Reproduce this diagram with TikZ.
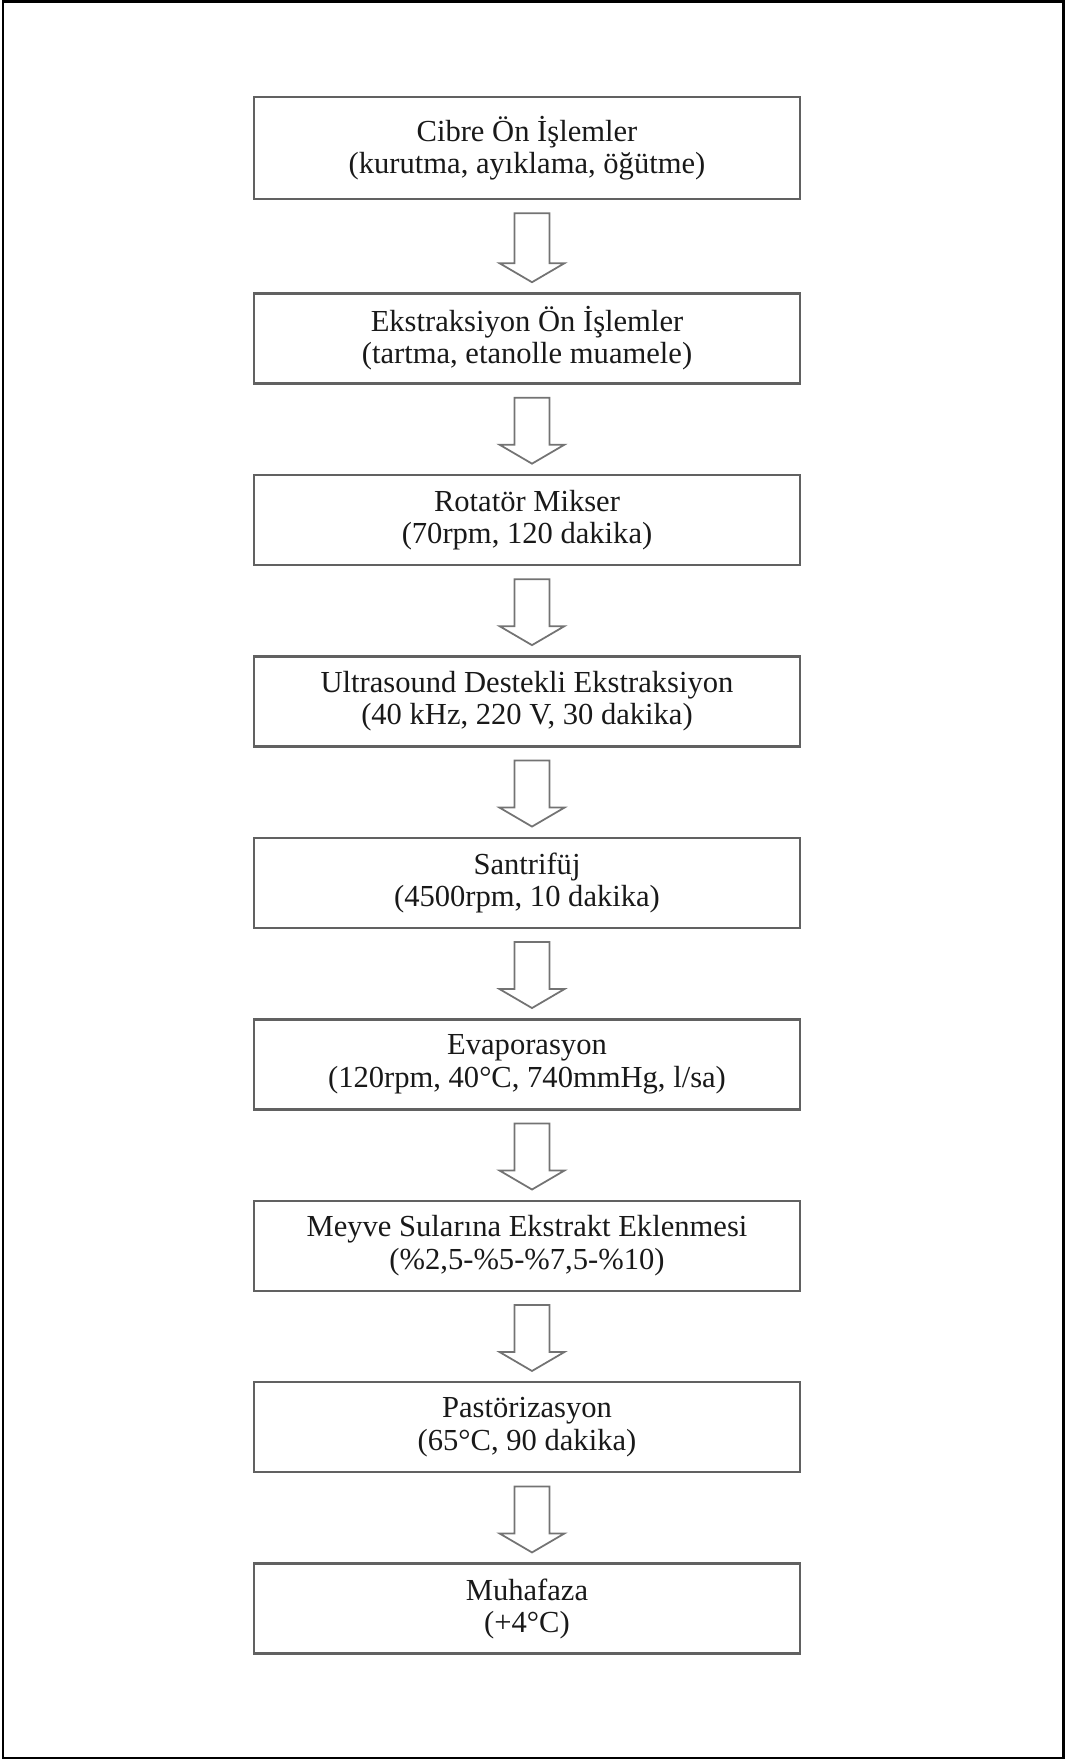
\documentclass[tikz,border=0pt]{standalone}
\usepackage{fontspec}
\setmainfont{Liberation Serif}
\usetikzlibrary{positioning,calc}

\begin{document}
\begin{tikzpicture}[
		islem/.style={draw=black!62,line width=0.7pt,align=center,minimum width=5.46cm,minimum height=0.9cm,inner sep=0pt,text=black!90,font=\fontsize{8.7}{9.2}\selectfont},
		ok/.style={draw=black!55,line width=0.5pt,line join=miter}
	]
		\useasboundingbox (0,0) rectangle (10.66,17.6);
		\draw[line width=0.85pt] (0.03,0.02) rectangle (10.63,17.58);
		\node[islem,minimum height=1.02cm] (cibre) at (5.27,16.12) {Cibre Ön İşlemler\\(kurutma, ayıklama, öğütme)};
		\node[islem,below=0.92cm of cibre] (ekstr) {Ekstraksiyon Ön İşlemler\\(tartma, etanolle muamele)};
		\node[islem,below=0.89cm of ekstr] (rotator) {Rotatör Mikser\\(70rpm, 120 dakika)};
		\node[islem,below=0.89cm of rotator] (ultra) {Ultrasound Destekli Ekstraksiyon\\(40 kHz, 220 V, 30 dakika)};
		\node[islem,below=0.89cm of ultra] (santri) {Santrifüj\\(4500rpm, 10 dakika)};
		\node[islem,below=0.89cm of santri] (evap) {Evaporasyon\\(120rpm, 40°C, 740mmHg, l/sa)};
		\node[islem,below=0.89cm of evap] (meyve) {Meyve Sularına Ekstrakt Eklenmesi\\(\%2,5-\%5-\%7,5-\%10)};
		\node[islem,below=0.89cm of meyve] (pastor) {Pastörizasyon\\(65°C, 90 dakika)};
		\node[islem,below=0.89cm of pastor] (muhafaza) {Muhafaza\\(+4°C)};
		\foreach \a/\b in {cibre/ekstr,ekstr/rotator,rotator/ultra,ultra/santri,santri/evap,evap/meyve,meyve/pastor,pastor/muhafaza}
		{
			\draw[ok] ($(\a.south)+(-0.125,-0.13)$) -- ($(\a.south)+(0.225,-0.13)$) -- ($(\b.north)+(0.225,0.29)$) -- ($(\b.north)+(0.375,0.29)$) -- ($(\b.north)+(0.05,0.10)$) -- ($(\b.north)+(-0.275,0.29)$) -- ($(\b.north)+(-0.125,0.29)$) -- cycle;
		}
\end{tikzpicture}
\end{document}
